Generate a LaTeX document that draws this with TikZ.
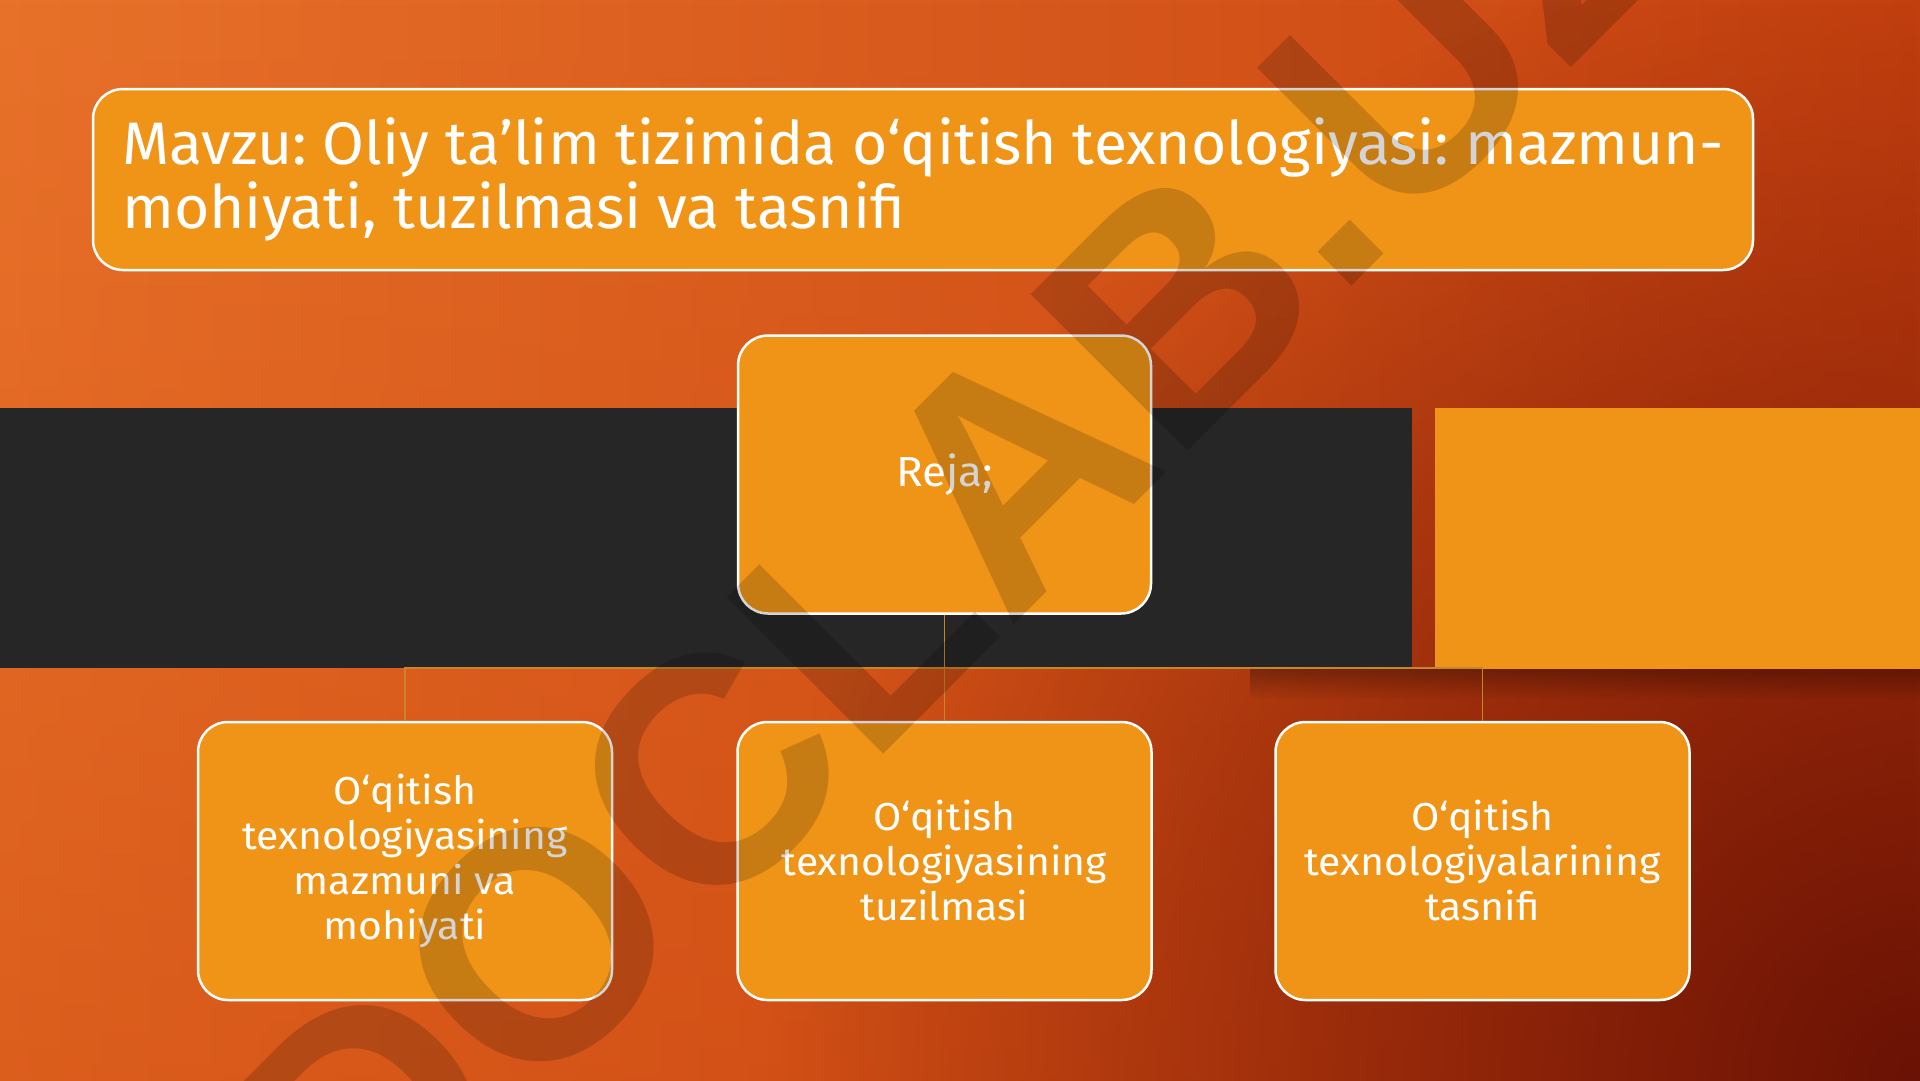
\documentclass[tikz,border=0pt]{standalone}
\usepackage{fontspec}
\setmainfont{Fira Sans}
\newfontfamily\titlefont{Fira Sans}[FakeStretch=1.01]
\newfontfamily\boxfont{Fira Sans}[FakeStretch=1.05]
\newfontfamily\wmfont{Liberation Sans}
\usetikzlibrary{fadings}
\frenchspacing

\definecolor{boxorange}{HTML}{F09418}
\definecolor{bandgrey}{HTML}{262626}
\definecolor{bgleft}{HTML}{E8722A}
\definecolor{bgmid}{HTML}{D65419}
\definecolor{bgright}{HTML}{C84210}
\definecolor{bglow}{HTML}{C03000}
\definecolor{bgdark}{HTML}{6A1205}
\definecolor{linkgold}{HTML}{C8862A}

\tikzfading[name=corner fade, inner color=transparent!0, outer color=transparent!100]

\tikzset{
  titlebox/.style={draw=white, line width=2.5pt, fill=boxorange, rounded corners=30pt,
    text=white, align=left, minimum width=1660pt, minimum height=181pt,
    inner sep=0pt, font=\titlefont\fontsize{60}{64}\selectfont},
  planbox/.style={draw=white, line width=2.5pt, fill=boxorange, rounded corners=30pt,
    text=white, align=center, minimum width=414pt, minimum height=278pt,
    inner sep=0pt, font=\boxfont\fontsize{39}{45}\selectfont},
  link/.style={draw=linkgold, line width=1.8pt},
  wmark/.style={text=black, text opacity=0.17, inner sep=0pt,
    font=\wmfont\bfseries\fontsize{322}{322}\selectfont}
}

\begin{document}
\begin{tikzpicture}[x=1pt,y=-1pt]
\useasboundingbox (0,0) rectangle (1920,1080);
%%% background
\shade[left color=bgleft, middle color=bgmid, right color=bgright] (0,0) rectangle (1920,1080);
\fill[bglow, opacity=0.3, path fading=north] (0,0) rectangle (1920,1080);
\fill[bgdark, path fading=corner fade] (1920,1080) circle (1150);
% band with its shadow
\fill[black, opacity=0.3, path fading=south] (1250,669) rectangle (1920,700);
\fill[bandgrey] (0,408) rectangle (1412,668);
\fill[boxorange] (1435,408) rectangle (1920,669);
%%% boxes
\node[titlebox] (title) at (923,179.5) {Mavzu: Oliy ta’lim tizimida o‘qitish texnologiyasi: mazmun-\\mohiyati, tuzilmasi va tasnifi};
\node[planbox, minimum width=413pt, font=\boxfont\fontsize{42}{45}\selectfont] (reja) at (944.5,474.5) {Reja;};
\node[planbox] (sub1) at (405,861) {O‘qitish\\texnologiyasining\\mazmuni va\\mohiyati};
\node[planbox] (sub2) at (944.5,861) {O‘qitish\\texnologiyasining\\tuzilmasi};
\node[planbox] (sub3) at (1482.5,861) {O‘qitish\\texnologiyalarining\\tasnifi};
%%% links
\coordinate (fork) at (944.5,668);
\draw[link] (reja.south) -- (sub2.north);
\draw[link] (sub1.north) |- (fork) -| (sub3.north);
%%% watermark
\node[wmark, rotate=45] (stamp) at (955,527) {DOCLAB.UZ};
\end{tikzpicture}
\end{document}
